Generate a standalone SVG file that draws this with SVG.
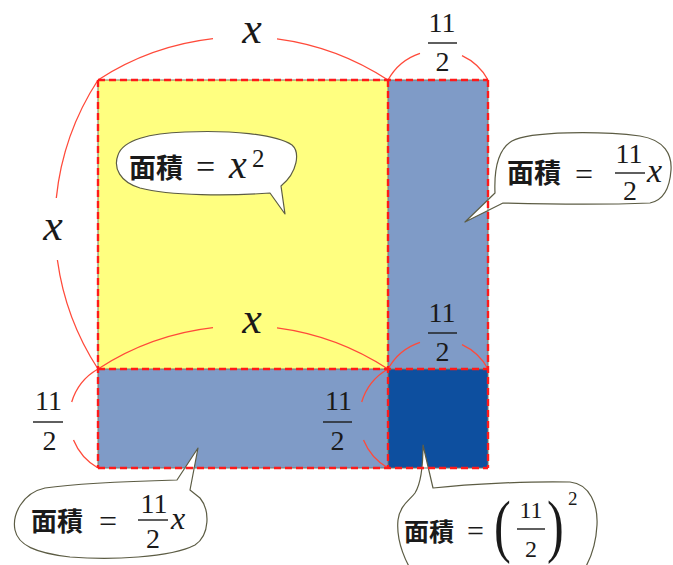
<svg xmlns="http://www.w3.org/2000/svg" width="673" height="565" viewBox="0 0 673 565">
<g id="regions">
<rect id="sq-x2" x="98" y="80" width="290" height="289" fill="#ffff80"/>
<rect id="strip-right" x="388" y="80" width="100" height="289" fill="#7f9bc7"/>
<rect id="strip-bottom" x="98" y="369" width="290" height="99" fill="#7f9bc7"/>
<rect id="sq-small" x="388" y="369" width="100" height="99" fill="#0d4f9f"/>
</g>
<g id="connectors" fill="none" stroke="#ff4a3a" stroke-width="1.3">
<path d="M98,80 A266,266 0 0 1 213,38.7 M277,38.8 A266,266 0 0 1 388,80"/>
<path d="M98,369 A266,266 0 0 1 213,327.7 M277,327.8 A266,266 0 0 1 388,369"/>
<path d="M98,80 A266,266 0 0 0 56.3,198 M57.4,260 A266,266 0 0 0 98,369"/>
<path d="M388,80 A57,57 0 0 1 420,53.3 M462,55.7 A57,57 0 0 1 488,80"/>
<path d="M388,369 A57,57 0 0 1 420,342.3 M462,344.7 A57,57 0 0 1 488,369"/>
<path d="M98,369 A57,57 0 0 0 71.7,402 M73.5,440 A57,57 0 0 0 98,468"/>
<path d="M388,369 A57,57 0 0 0 361.7,402 M363.5,440 A57,57 0 0 0 388,468"/>
</g>
<g id="bubble-1" fill="#1a1a1a">
<path fill="#ffffff" stroke="#5c5c44" stroke-width="1.2" stroke-linejoin="round" d="M270,193 C230,196 170,196 140,188 C120,182 113,168 118,155 C123,140 150,133 185,132 C230,130 275,134 292,145 C300,152 298,172 281,186 L285,214 Z"/>
<text font-family="Noto Sans CJK JP" font-weight="600" x="129" y="178" font-size="27">面積</text>
<text font-family="Liberation Serif" style="font-family:'Liberation Serif'" x="196" y="178" font-size="34">=</text>
<text font-family="Liberation Serif" style="font-family:'Liberation Serif'" font-style="italic" x="229" y="178" font-size="40">x</text>
<text font-family="Liberation Serif" style="font-family:'Liberation Serif'" x="252" y="167" font-size="25">2</text>
</g>
<g id="bubble-2" fill="#1a1a1a">
<path fill="#ffffff" stroke="#5c5c44" stroke-width="1.2" stroke-linejoin="round" d="M465,222 L495,193 C494,170 497,150 512,141 C530,131 600,131 640,136 C665,140 672,155 671,170 C670,185 665,200 650,203 C600,205 540,204 503,203 Z"/>
<text font-family="Noto Sans CJK JP" font-weight="600" x="507" y="183" font-size="27">面積</text>
<text font-family="Liberation Serif" style="font-family:'Liberation Serif'" x="575" y="185" font-size="32">=</text>
<text font-family="Liberation Serif" style="font-family:'Liberation Serif'" text-anchor="middle" x="629" y="163" font-size="28">11</text>
<line stroke="#1a1a1a" stroke-width="1.4" x1="615" y1="173" x2="645" y2="173"/>
<text font-family="Liberation Serif" style="font-family:'Liberation Serif'" text-anchor="middle" x="630" y="200" font-size="28">2</text>
<text font-family="Liberation Serif" style="font-family:'Liberation Serif'" font-style="italic" x="647" y="182" font-size="34">x</text>
</g>
<g id="bubble-3" fill="#1a1a1a">
<path fill="#ffffff" stroke="#5c5c44" stroke-width="1.2" stroke-linejoin="round" d="M198,448 L177,480 C140,481 80,483 45,488 C22,493 12,515 15,530 C18,545 35,553 70,557 C110,560 170,558 195,545 C210,535 210,510 200,498 L190,490 Z"/>
<text font-family="Noto Sans CJK JP" font-weight="600" x="31" y="531" font-size="26">面積</text>
<text font-family="Liberation Serif" style="font-family:'Liberation Serif'" x="99" y="532" font-size="32">=</text>
<text font-family="Liberation Serif" style="font-family:'Liberation Serif'" text-anchor="middle" x="154" y="513" font-size="28">11</text>
<line stroke="#1a1a1a" stroke-width="1.4" x1="138" y1="520" x2="168" y2="520"/>
<text font-family="Liberation Serif" style="font-family:'Liberation Serif'" text-anchor="middle" x="153" y="548" font-size="28">2</text>
<text font-family="Liberation Serif" style="font-family:'Liberation Serif'" font-style="italic" x="171" y="529" font-size="32">x</text>
</g>
<g id="bubble-4" fill="#1a1a1a">
<path fill="#ffffff" stroke="#5c5c44" stroke-width="1.2" stroke-linejoin="round" d="M423,445 L433,488 C470,484 530,481 570,482 C590,484 598,505 597,525 C596,545 590,565 575,582 L420,582 C405,565 396,540 398,520 C400,505 410,500 415,493 C420,485 423,470 423,445 Z"/>
<text font-family="Noto Sans CJK JP" font-weight="600" x="404" y="541" font-size="25">面積</text>
<text font-family="Liberation Serif" style="font-family:'Liberation Serif'" x="467" y="541" font-size="30">=</text>
<text font-family="Liberation Serif" style="font-family:'Liberation Serif'" transform="translate(494,549) scale(0.72,1)" font-size="70">(</text>
<text font-family="Liberation Serif" style="font-family:'Liberation Serif'" text-anchor="middle" x="531" y="518" font-size="24">11</text>
<line stroke="#1a1a1a" stroke-width="1.4" x1="517" y1="529" x2="545" y2="529"/>
<text font-family="Liberation Serif" style="font-family:'Liberation Serif'" text-anchor="middle" x="531" y="557" font-size="24">2</text>
<text font-family="Liberation Serif" style="font-family:'Liberation Serif'" transform="translate(547,549) scale(0.72,1)" font-size="70">)</text>
<text font-family="Liberation Serif" style="font-family:'Liberation Serif'" x="568" y="505" font-size="19">2</text>
</g>
<g id="borders" fill="none">
<path stroke="#7a7a66" stroke-width="1" d="M98,80H488V468H98Z M388,80V468 M98,369H488"/>
<path stroke="#ff1a1a" stroke-width="2.4" stroke-dasharray="7 4" d="M98,80H488 M98,369H488 M98,468H488 M98,80V468 M388,80V468 M488,80V468"/>
</g>
<g id="labels" fill="#1a1a1a">
<text font-family="Liberation Serif" style="font-family:'Liberation Serif'" font-style="italic" text-anchor="middle" x="252" y="43" font-size="44">x</text>
<g id="lbl-top-11-2">
<text font-family="Liberation Serif" style="font-family:'Liberation Serif'" text-anchor="middle" x="442" y="32" font-size="28">11</text>
<line stroke="#1a1a1a" stroke-width="1.4" x1="428" y1="43" x2="457" y2="43"/>
<text font-family="Liberation Serif" style="font-family:'Liberation Serif'" text-anchor="middle" x="442.5" y="71" font-size="28">2</text>
</g>
<text font-family="Liberation Serif" style="font-family:'Liberation Serif'" font-style="italic" text-anchor="middle" x="53" y="240" font-size="44">x</text>
<text font-family="Liberation Serif" style="font-family:'Liberation Serif'" font-style="italic" text-anchor="middle" x="252" y="333" font-size="44">x</text>
<g id="lbl-mid-11-2">
<text font-family="Liberation Serif" style="font-family:'Liberation Serif'" text-anchor="middle" x="442" y="322" font-size="28">11</text>
<line stroke="#1a1a1a" stroke-width="1.4" x1="428" y1="333" x2="457" y2="333"/>
<text font-family="Liberation Serif" style="font-family:'Liberation Serif'" text-anchor="middle" x="442.5" y="361" font-size="28">2</text>
</g>
<g id="lbl-left-11-2">
<text font-family="Liberation Serif" style="font-family:'Liberation Serif'" text-anchor="middle" x="48.5" y="410" font-size="28">11</text>
<line stroke="#1a1a1a" stroke-width="1.4" x1="33" y1="422" x2="63" y2="422"/>
<text font-family="Liberation Serif" style="font-family:'Liberation Serif'" text-anchor="middle" x="49.5" y="450" font-size="28">2</text>
</g>
<g id="lbl-inner-11-2">
<text font-family="Liberation Serif" style="font-family:'Liberation Serif'" text-anchor="middle" x="338.5" y="410" font-size="28">11</text>
<line stroke="#1a1a1a" stroke-width="1.4" x1="323" y1="422" x2="352" y2="422"/>
<text font-family="Liberation Serif" style="font-family:'Liberation Serif'" text-anchor="middle" x="337.5" y="450" font-size="28">2</text>
</g>
</g>
</svg>
